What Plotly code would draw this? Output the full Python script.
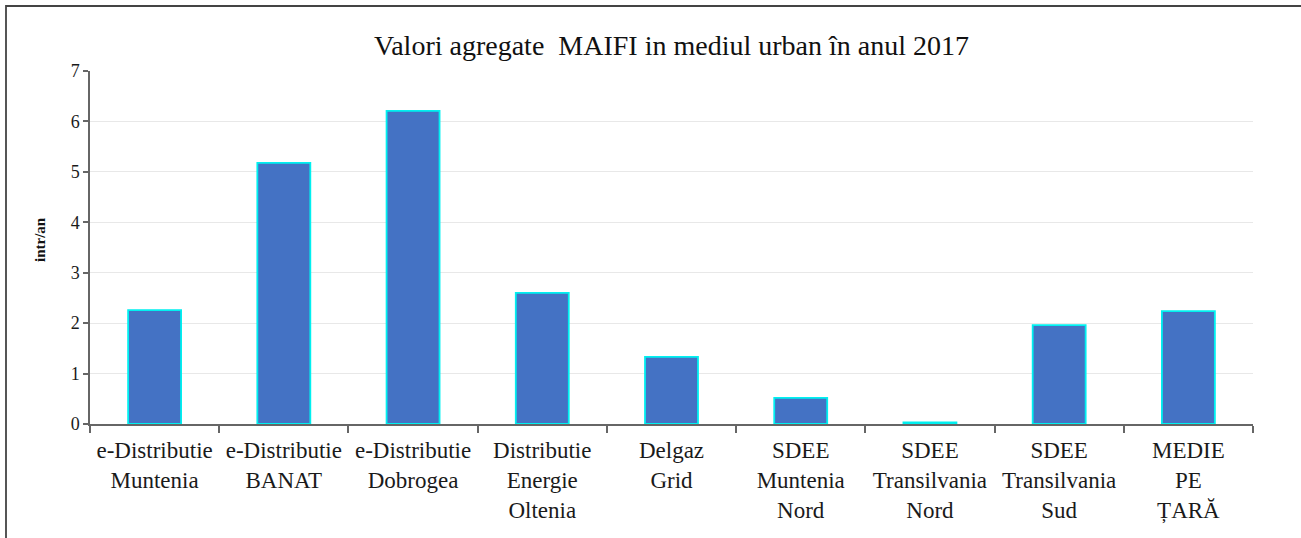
import plotly.graph_objects as go

categories = [
    "e-Distributie<br>Muntenia",
    "e-Distributie<br>BANAT",
    "e-Distributie<br>Dobrogea",
    "Distributie<br>Energie<br>Oltenia",
    "Delgaz<br>Grid",
    "SDEE<br>Muntenia<br>Nord",
    "SDEE<br>Transilvania<br>Nord",
    "SDEE<br>Transilvania<br>Sud",
    "MEDIE<br>PE<br>ȚARĂ",
]
values = [2.26, 5.18, 6.21, 2.60, 1.33, 0.52, 0.03, 1.96, 2.24]
y_ticks = [0, 1, 2, 3, 4, 5, 6, 7]

W, H = 1301, 538
L, R, T, B = 90, 48, 71, 114
pw = W - L - R
ph = H - T - B

serif = "Liberation Serif"

fig = go.Figure(
    go.Bar(
        x=categories,
        y=values,
        marker=dict(color="#4472C4", line=dict(color="#00F0F0", width=1.8)),
        width=0.41,
    )
)

fig.update_layout(
    width=W,
    height=H,
    margin=dict(l=L, r=R, t=T, b=B, autoexpand=False),
    paper_bgcolor="white",
    plot_bgcolor="white",
    showlegend=False,
    font=dict(family=serif, color="#1a1a1a"),
    title=dict(
        text="Valori agregate  MAIFI in mediul urban în anul 2017",
        x=0.5,
        xref="paper",
        xanchor="center",
        y=1 - 45 / H,
        yref="container",
        yanchor="middle",
        font=dict(family=serif, size=28, color="#111111"),
    ),
    xaxis=dict(
        showline=True,
        linecolor="#666666",
        linewidth=1.5,
        ticks="outside",
        tickson="boundaries",
        ticklen=7,
        tickcolor="#666666",
        tickwidth=1.5,
        showgrid=False,
        ticklabelstandoff=5,
        tickfont=dict(family=serif, size=23, color="#1a1a1a"),
        fixedrange=True,
    ),
    yaxis=dict(
        range=[0, 7],
        tickvals=y_ticks,
        showline=True,
        linecolor="#666666",
        linewidth=1.5,
        ticks="outside",
        ticklen=5,
        tickcolor="#666666",
        tickwidth=1.5,
        showgrid=True,
        gridcolor="#E8E8E8",
        gridwidth=1,
        zeroline=False,
        tickfont=dict(family=serif, size=18, color="#1a1a1a"),
        fixedrange=True,
    ),
    annotations=[
        dict(
            text="<b>intr/an</b>",
            x=(40 - L) / pw,
            xref="paper",
            y=(424 - 240) / ph,
            yref="paper",
            textangle=-90,
            showarrow=False,
            xanchor="center",
            yanchor="middle",
            font=dict(family=serif, size=15, color="#111111"),
        )
    ],
    shapes=[
        dict(
            type="rect",
            xref="paper",
            yref="paper",
            x0=(6 - L) / pw,
            x1=1.2,
            y0=-0.5,
            y1=(H - B - 6) / ph,
            line=dict(color="#444444", width=1.8),
            fillcolor="rgba(0,0,0,0)",
            layer="below",
        )
    ],
)

fig.write_html(
    "out.html",
    config={"displayModeBar": False},
    post_script="document.body.style.margin='0';",
)
